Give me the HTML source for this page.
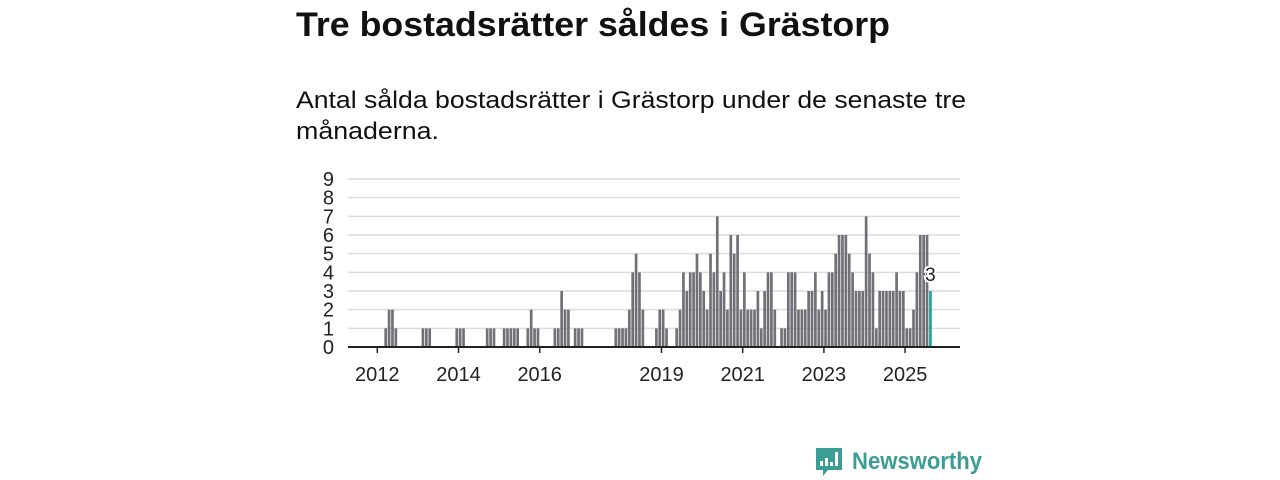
<!DOCTYPE html>
<html><head><meta charset="utf-8"><style>
html,body{margin:0;padding:0;background:#fff;width:1280px;height:480px;overflow:hidden}
svg{display:block;font-family:"Liberation Sans",sans-serif}
</style></head><body>
<svg id="chart" width="1280" height="480" viewBox="0 0 1280 480">
<text x="296" y="36" font-size="34" font-weight="bold" fill="#111" textLength="594" lengthAdjust="spacingAndGlyphs">Tre bostadsrätter såldes i Grästorp</text>
<text x="296" y="108" font-size="24" fill="#111" textLength="670" lengthAdjust="spacingAndGlyphs">Antal sålda bostadsrätter i Grästorp under de senaste tre</text>
<text x="296" y="139" font-size="24" fill="#111" textLength="143" lengthAdjust="spacingAndGlyphs">månaderna.</text>
<g id="grid"></g>
<g id="yaxis"></g>
<g id="bars"></g>
<g id="xaxis"></g>
<g id="ann"></g>
<g>
<path d="M816 448 h26 v22 h-14 l-5 6 v-6 h-7 z" fill="#3a9e94"/>
<rect x="820" y="461" width="3" height="5" fill="#fff"/>
<rect x="825" y="458" width="3" height="8" fill="#fff"/>
<rect x="830" y="462" width="3" height="4" fill="#fff"/>
<rect x="835" y="452" width="3" height="14" fill="#fff"/>
<text x="852" y="469" font-size="24" font-weight="bold" fill="#3a9e94" textLength="130" lengthAdjust="spacingAndGlyphs">Newsworthy</text>
</g>
</svg>
<script>
const yTicks=[0,1,2,3,4,5,6,7,8,9];
const xTickYears=[2012,2014,2016,2019,2021,2023,2025];
const startYear=2012;
const v2012=[0,0,1,2,2,1,0,0,0,0,0,0];
const v2013=[0,1,1,1,0,0,0,0,0,0,0,1];
const v2014=[1,1,0,0,0,0,0,0,1,1,1,0];
const v2015=[0,1,1,1,1,1,0,0,1,2,1,1];
const v2016=[0,0,0,0,1,1,3,2,2,0,1,1];
const v2017=[1,0,0,0,0,0,0,0,0,0,1,1];
const v2018=[1,1,2,4,5,4,2,0,0,0,1,2];
const v2019=[2,1,0,0,1,2,4,3,4,4,5,4];
const v2020=[3,2,5,4,7,3,4,2,6,5,6,2];
const v2021=[4,2,2,2,3,1,3,4,4,2,0,1];
const v2022=[1,4,4,4,2,2,2,3,3,4,2,3];
const v2023=[2,4,4,5,6,6,6,5,4,3,3,3];
const v2024=[7,5,4,1,3,3,3,3,3,4,3,3];
const v2025=[1,1,2,4,6,6,6,3];
const values=[].concat(v2012,v2013,v2014,v2015,v2016,v2017,v2018,v2019,v2020,v2021,v2022,v2023,v2024,v2025);
const NS="http://www.w3.org/2000/svg";
const X0=348,X1=960,Y0=347,Y9=179;
function xs(t){return 377.3+(t-startYear)*40.6;}
function ys(v){return Y0-(v/9)*(Y0-Y9);}
function mk(tag,attrs,parent){const e=document.createElementNS(NS,tag);for(const k in attrs)e.setAttribute(k,attrs[k]);parent.appendChild(e);return e;}
const grid=document.getElementById('grid'),yax=document.getElementById('yaxis'),bars=document.getElementById('bars'),xax=document.getElementById('xaxis'),ann=document.getElementById('ann');
yTicks.forEach(v=>{
  if(v>0){const l=mk('line',{x1:X0,x2:X1,y1:ys(v),y2:ys(v),stroke:'#dcdcdc','stroke-width':1.5},grid);
  
  }
  const t=mk('text',{x:334,y:ys(v)+7,'font-size':20,'text-anchor':'end',fill:'#222'},yax);
  t.textContent=v;
  
  
});
const mw=40.6/12;
values.forEach((v,i)=>{
  if(v<=0)return;
  const last=i===values.length-1;
  const x=xs(startYear+i/12);
  const r=mk('rect',{x:x+0.3,y:ys(v),width:mw-0.7,height:Y0-ys(v),fill:last?'#1fa39a':'#717077'},bars);
  
  
});
mk('line',{x1:X0,x2:X1,y1:Y0,y2:Y0,stroke:'#222','stroke-width':2},xax);
xTickYears.forEach(y=>{
  const x=xs(y);
  mk('line',{x1:x,x2:x,y1:Y0,y2:Y0+6,stroke:'#222','stroke-width':1.5},xax);
  const t=mk('text',{x:x,y:381,'font-size':20,'text-anchor':'middle',fill:'#222'},xax);
  t.textContent=y;
  
  
});
const li=values.length-1,lv=values[li];
const lx=xs(startYear+li/12)+mw/2;
const lt=mk('text',{x:lx,y:ys(lv)-10,'font-size':19,'text-anchor':'middle',fill:'#222',stroke:'#fff','stroke-width':4,'paint-order':'stroke'},ann);
lt.textContent=lv;


</script>
</body></html>
